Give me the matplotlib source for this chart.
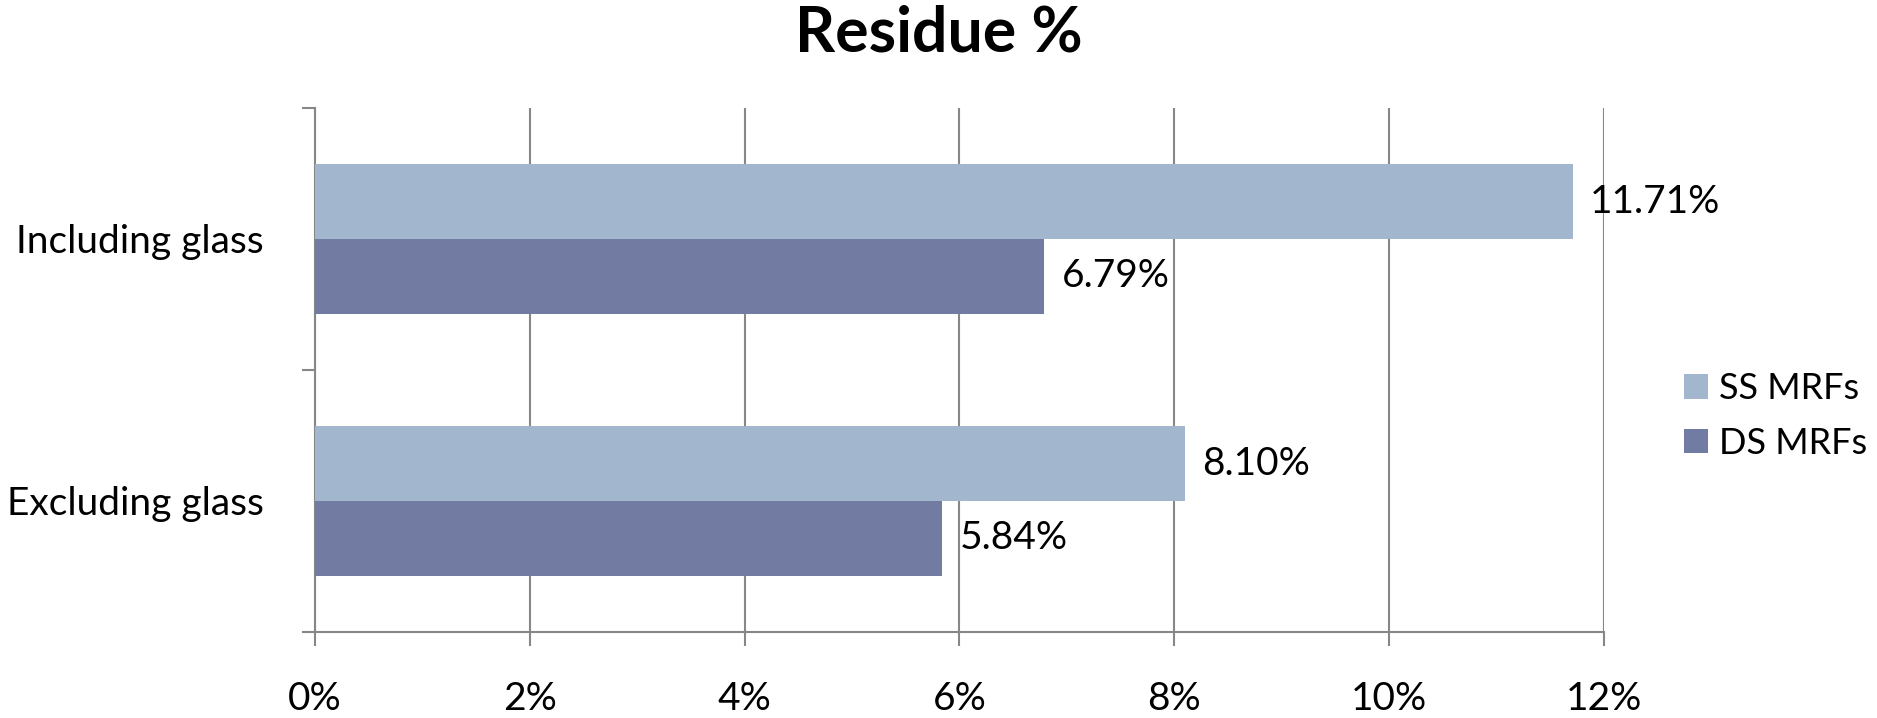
import matplotlib
matplotlib.use("Agg")
import matplotlib.pyplot as plt
from matplotlib.patches import Patch
import numpy as np

plt.rcParams['font.family'] = ['Lato', 'DejaVu Sans']

categories = ["Excluding glass", "Including glass"]
series_names = ["SS MRFs", "DS MRFs"]
ss_values = [8.10, 11.71]
ds_values = [5.84, 6.79]
x_ticks = [0, 2, 4, 6, 8, 10, 12]
x_tick_labels = ["0%", "2%", "4%", "6%", "8%", "10%", "12%"]
title = "Residue %"

ss_color = "#A2B7CE"
ds_color = "#727BA1"
grid_color = "#878787"
fs = 28

fig = plt.figure(figsize=(18.77, 7.18), dpi=100)
ax = fig.add_axes([315 / 1877, 1 - 632 / 718, (1604 - 315) / 1877, (632 - 108) / 718])

y = np.arange(len(categories))
h = 0.286
ss_bars = ax.barh(y + h / 2, ss_values, height=h, color=ss_color, zorder=3)
ds_bars = ax.barh(y - h / 2, ds_values, height=h, color=ds_color, zorder=3)

for bars, vals in ((ss_bars, ss_values), (ds_bars, ds_values)):
    for b, v in zip(bars, vals):
        ax.annotate(f"{v:.2f}%", xy=(v, b.get_y() + b.get_height() / 2),
                    xytext=(12.5, 0), textcoords="offset points",
                    va="center", ha="left", fontsize=fs, color="black")

ax.set_xlim(0, 12)
ax.set_ylim(-0.5, 1.5)
ax.set_xticks(x_ticks)
ax.set_xticklabels(x_tick_labels, fontsize=fs)
ax.xaxis.grid(True, color=grid_color, linewidth=1.5, zorder=0)
ax.set_axisbelow(True)

ax.set_yticks(y)
ax.set_yticklabels(categories, fontsize=fs)
ax.set_yticks([-0.5, 0.5, 1.5], minor=True)
ax.tick_params(axis="y", which="major", length=0, pad=37)
ax.tick_params(axis="y", which="minor", length=9.5, width=1.5, color=grid_color, direction="out")
ax.tick_params(axis="x", which="major", length=10, width=1.5, color=grid_color, direction="out", pad=25)

for side in ("top", "right"):
    ax.spines[side].set_visible(False)
for side in ("left", "bottom"):
    ax.spines[side].set_color(grid_color)
    ax.spines[side].set_linewidth(1.5)

handles = [Patch(facecolor=ss_color, label=series_names[0]),
           Patch(facecolor=ds_color, label=series_names[1])]
fig.legend(handles=handles, loc="center left", bbox_to_anchor=(1684 / 1877, 1 - 416 / 718),
           frameon=False, fontsize=26, handlelength=0.66, handleheight=0.66,
           handletextpad=0.3, labelspacing=0.6, borderpad=0, borderaxespad=0)

fig.text(0.5, 1 - 34 / 718, title, ha="center", va="center", fontsize=45, fontweight="bold")

fig.savefig("out.png", dpi=100)
